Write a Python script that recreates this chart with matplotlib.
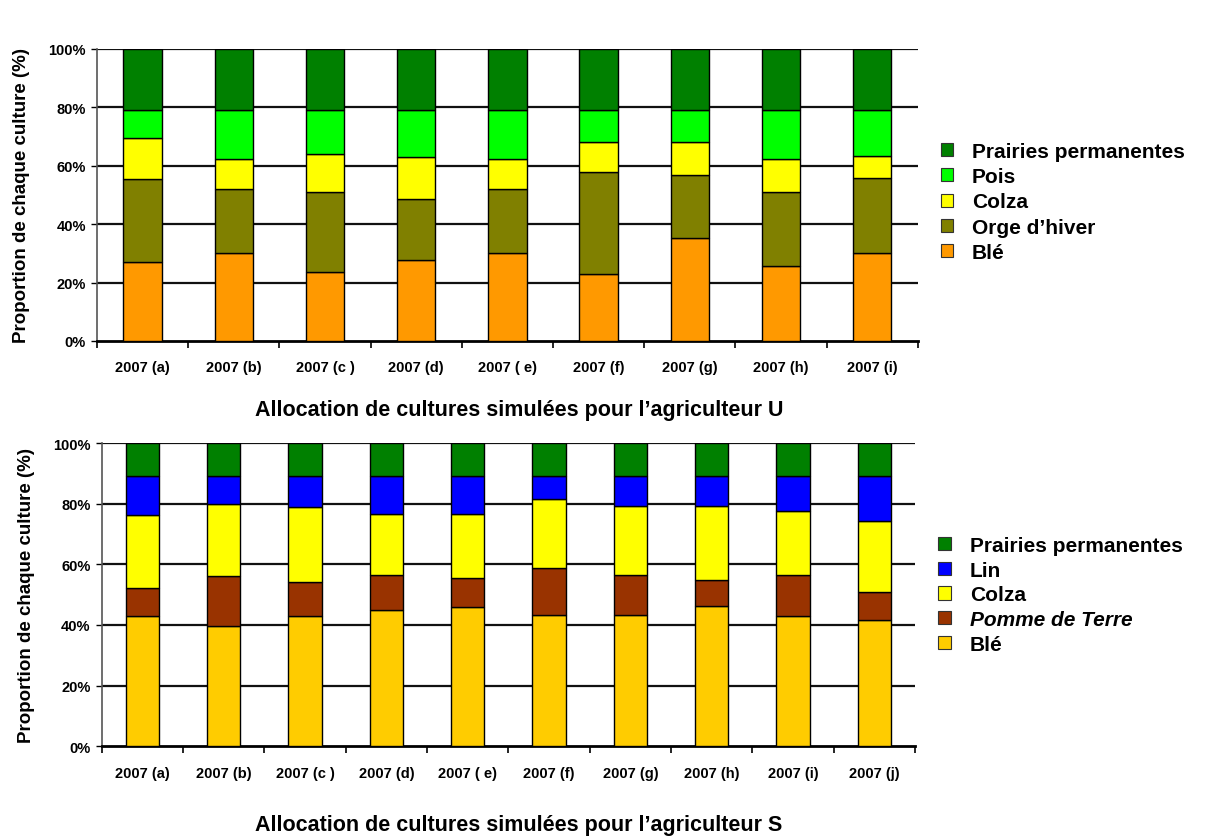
import matplotlib
matplotlib.use("Agg")
import matplotlib.pyplot as plt
from matplotlib.ticker import FixedLocator, PercentFormatter
from matplotlib.patches import Patch
import numpy as np

plt.rcParams['font.family'] = ['Liberation Sans', 'DejaVu Sans']
plt.rcParams['font.weight'] = 'bold'

# ---- Data: farmer U ----
u_labels = ["2007 (a)", "2007 (b)", "2007 (c )", "2007 (d)", "2007 ( e)",
            "2007 (f)", "2007 (g)", "2007 (h)", "2007 (i)"]
u_ble = [27.2, 30.3, 23.7, 27.8, 30.3, 22.9, 35.2, 25.6, 30.3]
u_orge = [28.2, 21.7, 27.4, 20.8, 21.7, 35.0, 21.8, 25.5, 25.4]
u_colza = [14.1, 10.3, 12.9, 14.5, 10.3, 10.1, 11.0, 11.2, 7.7]
u_pois = [9.7, 16.9, 15.2, 16.1, 16.9, 11.2, 11.2, 16.9, 15.8]
u_prairies = [20.8, 20.8, 20.8, 20.8, 20.8, 20.8, 20.8, 20.8, 20.8]

# ---- Data: farmer S ----
s_labels = ["2007 (a)", "2007 (b)", "2007 (c )", "2007 (d)", "2007 ( e)",
            "2007 (f)", "2007 (g)", "2007 (h)", "2007 (i)", "2007 (j)"]
s_ble = [43.1, 39.8, 43.1, 45.0, 46.0, 43.3, 43.3, 46.2, 43.1, 41.7]
s_pdt = [9.0, 16.5, 11.2, 11.6, 9.4, 15.4, 13.3, 8.7, 13.5, 9.1]
s_colza = [24.3, 23.6, 24.5, 20.0, 21.2, 22.8, 22.7, 24.4, 21.1, 23.4]
s_lin = [12.8, 9.3, 10.4, 12.6, 12.6, 7.7, 9.9, 9.9, 11.5, 15.0]
s_prairies = [10.8] * 10

fig = plt.figure(figsize=(12.14, 8.37), dpi=100)

def draw(ax, labels, series, names, colors, styles, width, legend_anchor,
         leg_spacing, xpad):
    n = len(labels)
    x = np.arange(n)
    bottom = np.zeros(n)
    for vals, c in zip(series, colors):
        ax.bar(x, vals, width, bottom=bottom, color=c, edgecolor='black',
               linewidth=1.0, zorder=3)
        bottom += np.array(vals)
    ax.set_xlim(-0.5, n - 0.5)
    ax.set_ylim(0, 100)
    yt = [0, 20, 40, 60, 80, 100]
    ax.set_yticks(yt)
    ax.yaxis.set_major_formatter(PercentFormatter(decimals=0))
    for y in yt[1:]:
        ax.axhline(y, color='#111111', lw=1.6, zorder=1)
    ax.xaxis.set_major_locator(FixedLocator(np.arange(n + 1) - 0.5))
    ax.xaxis.set_minor_locator(FixedLocator(x))
    ax.set_xticklabels([], minor=False)
    ax.set_xticklabels(labels, minor=True, fontsize=10.5, fontweight='bold')
    ax.tick_params(axis='x', which='major', direction='out', length=5, width=1.2)
    ax.tick_params(axis='x', which='minor', length=0, pad=xpad)
    ax.tick_params(axis='y', direction='out', length=4, width=1, labelsize=10.5, pad=4)
    for t in ax.get_yticklabels():
        t.set_fontweight('bold')
    ax.spines['top'].set_visible(False)
    ax.spines['right'].set_visible(False)
    ax.spines['left'].set_linewidth(1.2)
    ax.spines['left'].set_color('#555555')
    ax.spines['bottom'].set_linewidth(2.0)
    ax.set_ylabel("Proportion de chaque culture (%)", fontsize=13.5,
                  fontweight='bold', labelpad=13)
    handles = [Patch(facecolor=c, edgecolor='#333333', linewidth=0.8)
               for c in colors][::-1]
    leg = fig.legend(handles, names[::-1], loc='center left',
                     bbox_to_anchor=legend_anchor, frameon=False,
                     borderpad=0, borderaxespad=0,
                     handlelength=0.6, handleheight=0.6, handletextpad=0.9,
                     labelspacing=leg_spacing, prop={'weight': 'bold', 'size': 15})
    for t, st in zip(leg.get_texts(), styles[::-1]):
        t.set_fontstyle(st)
    return ax

ax1 = fig.add_axes([0.0799, 0.5914, 0.6761, 0.3489])
draw(ax1, u_labels, [u_ble, u_orge, u_colza, u_pois, u_prairies],
     ["Blé", "Orge d’hiver", "Colza", "Pois", "Prairies permanentes"],
     ['#FF9900', '#808000', '#FFFF00', '#00FF00', '#008000'],
     ['normal'] * 5, 0.42, (0.775, 0.7575), 0.30, 14)
fig.text(0.4275, 0.510, "Allocation de cultures simulées pour l’agriculteur U",
         ha='center', va='center', fontsize=15.5, fontweight='bold')

ax2 = fig.add_axes([0.0838, 0.1072, 0.6699, 0.3623])
draw(ax2, s_labels, [s_ble, s_pdt, s_colza, s_lin, s_prairies],
     ["Blé", "Pomme de Terre", "Colza", "Lin", "Prairies permanentes"],
     ['#FFCC00', '#993300', '#FFFF00', '#0000FF', '#008000'],
     ['normal', 'italic', 'normal', 'normal', 'normal'], 0.41,
     (0.773, 0.288), 0.27, 14)
fig.text(0.4275, 0.014, "Allocation de cultures simulées pour l’agriculteur S",
         ha='center', va='center', fontsize=15.5, fontweight='bold')

fig.savefig("out.png", dpi=100)
